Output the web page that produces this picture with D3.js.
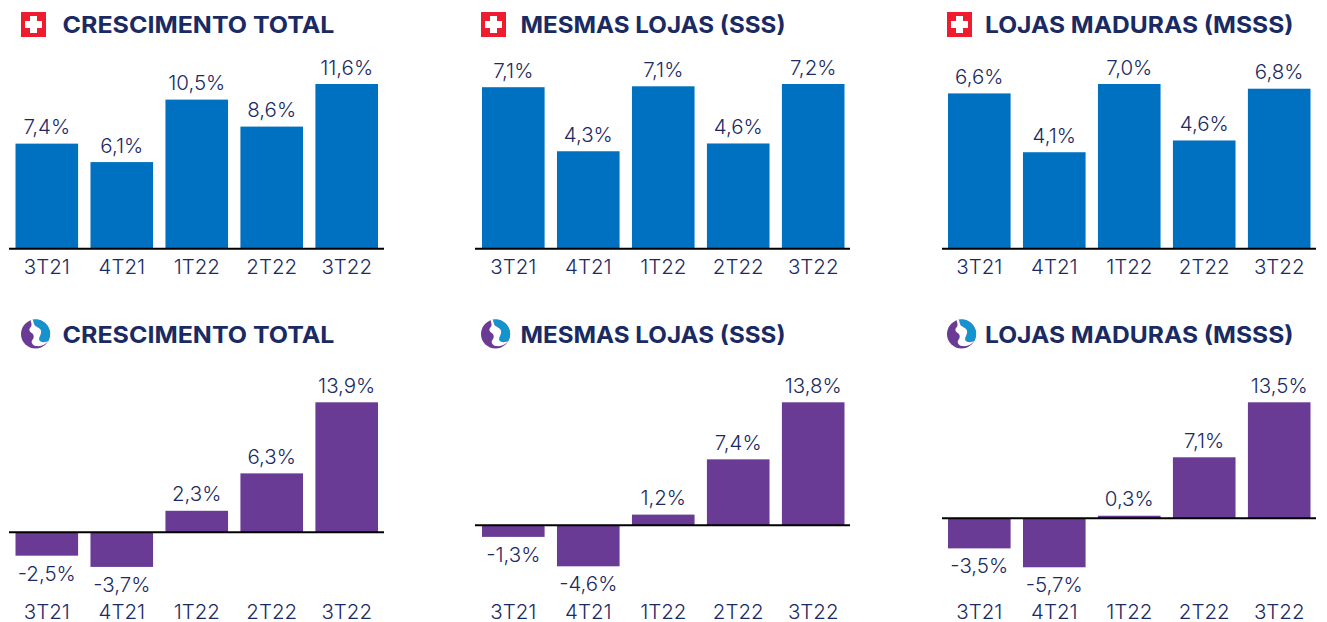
<!DOCTYPE html>
<html><head><meta charset="utf-8">
<style>html,body{margin:0;padding:0;background:#fff}svg{display:block}
text{font-family:Inter,"Open Sans",sans-serif;fill:#1a2a63}</style>
<script src="https://cdn.jsdelivr.net/npm/d3@7/dist/d3.min.js"></script></head><body>
<svg id="c" width="1327" height="622"></svg>
<script>
const categories=["3T21","4T21","1T22","2T22","3T22"];
const titles=["CRESCIMENTO TOTAL","MESMAS LOJAS (SSS)","LOJAS MADURAS (MSSS)"];
const swissTotal=[7.4,6.1,10.5,8.6,11.6];
const swissSSS=[7.06,4.26,7.1,4.6,7.2];
const swissMSSS=[6.6,4.1,7.0,4.6,6.8];
const otherTotal=[-2.5,-3.7,2.3,6.3,13.9];
const otherSSS=[-1.3,-4.6,1.2,7.4,13.8];
const otherMSSS=[-3.5,-5.7,0.3,7.1,13.5];

const svg=d3.select("#c");
const BLUE="#0071c1",PURPLE="#693b94",RED="#ee1c2e";
const cols=[{x0:15.5,x1:378,lx0:9,lx1:384,tx:62.5,tw:272,ix:21},
            {x0:482,x1:844.5,lx0:475,lx1:850,tx:520.5,tw:265,ix:481},
            {x0:948,x1:1310.5,lx0:942,lx1:1316,tx:985,tw:308.5,ix:947}];
const panels=[
 {c:0,v:swissTotal,color:BLUE,base:248.7,top:84,ty:25,icon:"swiss"},
 {c:1,v:swissSSS,color:BLUE,base:248.7,top:84,ty:25,icon:"swiss"},
 {c:2,v:swissMSSS,color:BLUE,base:248.7,top:84,ty:25,icon:"swiss"},
 {c:0,v:otherTotal,color:PURPLE,base:532.3,top:402.3,ty:335,icon:"globe"},
 {c:1,v:otherSSS,color:PURPLE,base:525.3,top:402.3,ty:335,icon:"globe"},
 {c:2,v:otherMSSS,color:PURPLE,base:518.3,top:402.3,ty:335,icon:"globe"}];
const fmt=v=>String(v.toFixed(1)).replace(".",",")+"%";

panels.forEach(p=>{
  const col=cols[p.c];
  const g=svg.append("g");
  const x=d3.scaleBand().domain(categories).range([col.x0,col.x1]).paddingInner(0.165).paddingOuter(0);
  const y=d3.scaleLinear().domain([0,d3.max(p.v)]).range([p.base,p.top]);
  const rows=categories.map((c,i)=>({c,v:p.v[i]}));
  g.selectAll("rect").data(rows).join("rect")
    .attr("x",d=>x(d.c)).attr("width",x.bandwidth())
    .attr("y",d=>Math.min(y(d.v),y(0))).attr("height",d=>Math.abs(y(d.v)-y(0)))
    .attr("fill",p.color);
  g.append("line").attr("x1",col.lx0).attr("x2",col.lx1).attr("y1",y(0)).attr("y2",y(0))
    .attr("stroke","#000").attr("stroke-width",2);
  g.selectAll("text.v").data(rows).join("text").attr("class","v")
    .attr("x",d=>x(d.c)+x.bandwidth()/2)
    .attr("y",d=>d.v>=0?y(d.v)-9.5:y(d.v)+25)
    .attr("text-anchor","middle").attr("font-size",20.5).attr("font-weight",300).text(d=>fmt(d.v));
  const axisY=p.icon==="swiss"?266:611;
  const ax=g.append("g").attr("transform",`translate(0,${axisY})`)
    .call(d3.axisBottom(x).tickSize(0).tickPadding(0));
  ax.select(".domain").remove();
  ax.selectAll("text").attr("dy",null).attr("dominant-baseline","central")
    .style("font-family",'Inter,"Open Sans",sans-serif').attr("font-size",20.5).attr("font-weight",300).attr("fill","#1a2a63");
  g.append("text").attr("x",col.tx).attr("y",p.ty).attr("dominant-baseline","central")
    .attr("font-size",23).attr("font-weight",700)
    .attr("textLength",col.tw).attr("lengthAdjust","spacingAndGlyphs")
    .text(titles[p.c]);
  const ic=g.append("g").attr("transform",`translate(${col.ix},${p.icon==="swiss"?12:319.5})`);
  if(p.icon==="swiss"){
    ic.append("rect").attr("width",25).attr("height",25).attr("fill",RED);
    ic.append("path").attr("fill","#fff").attr("d","M9 4h7v5h5v7h-5v5H9v-5H4V9h5z");
  }else{
    ic.append("circle").attr("cx",14.5).attr("cy",14.5).attr("r",14.5).attr("fill",PURPLE);
    ic.append("path").attr("fill","#1593cf").attr("d","M12 .2A14.5 14.5 0 0 1 27.5 21C25 23 20.5 23.5 18.5 21C17 18 21 15 20 11C19 8 15 7.5 13.5 5.5C12.8 4 12.3 2 12 .2Z");
    ic.append("path").attr("fill","#fff").attr("d","M9.5 1C10.5 4 11.5 6 9 8.5C7.5 10.5 9 12.5 11.5 14C13.5 16 13 19 11 21C10 23 11.5 26 15 26.5C20 27.2 24.5 25.5 27.5 21C25 23 20.5 23.5 18.5 21C17 18 21 15 20 11C19 8 15 7.5 13.5 5.5C12.8 4 12.3 2 12 .2C11 .3 10.3 .6 9.5 1Z");
  }
});
</script></body></html>
